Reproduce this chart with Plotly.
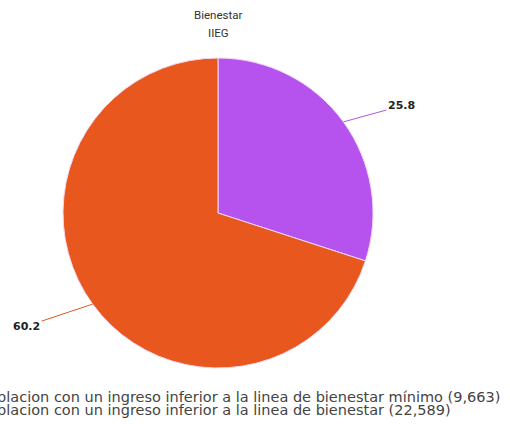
import math
import plotly.graph_objects as go

# Pie data (percent of population)
labels = [
    'Poblacion con un ingreso inferior a la linea de bienestar mínimo (9,663)',
    'Poblacion con un ingreso inferior a la linea de bienestar (22,589)',
]
values = [25.8, 60.2]
colors = ['#B653EE', '#E8571E']

W, H = 510, 424
# pie placement in pixels (from top-left)
cx, cy, r = 218, 213, 155

fig = go.Figure()

fig.add_trace(go.Pie(
    labels=labels,
    values=values,
    sort=False,
    direction='clockwise',
    rotation=0,
    marker=dict(colors=colors, line=dict(color='#f4d6f0', width=1)),
    textinfo='none',
    showlegend=False,
    domain=dict(x=[(cx - r) / W, (cx + r) / W], y=[1 - (cy + r) / H, 1 - (cy - r) / H]),
))

# value labels outside the pie, linked to the middle of each slice
label_offsets = [(58, -16), (-66, 22)]
total = sum(values)
start = 0
for v, col, (ax, ay) in zip(values, colors, label_offsets):
    mid = (start + v / 2) / total * 2 * math.pi
    start += v
    px_ = cx + r * math.sin(mid)
    py_ = cy - r * math.cos(mid)
    fig.add_annotation(
        x=px_ / W, y=1 - py_ / H, xref='paper', yref='paper',
        text='<b>%s</b>' % v, showarrow=True, arrowhead=0, arrowwidth=1,
        arrowcolor=col, ax=ax, ay=ay, standoff=0,
        font=dict(family='DejaVu Sans', size=11, color='#222222'),
    )

# title + subtitle
fig.add_annotation(
    text='Bienestar', x=cx / W, y=1 - 15 / H, xref='paper', yref='paper',
    yanchor='middle', showarrow=False,
    font=dict(family='Roboto', size=11.5, color='#333333'),
)
fig.add_annotation(
    text='IIEG', x=cx / W, y=1 - 33 / H, xref='paper', yref='paper',
    yanchor='middle', showarrow=False,
    font=dict(family='Roboto', size=11.5, color='#333333'),
)

# legend text (cut off at the left edge like the original)
for i, lab in enumerate(labels):
    fig.add_annotation(
        text=lab, x=-21 / W, y=1 - (397 + 13 * i) / H,
        xref='paper', yref='paper', xanchor='left', yanchor='middle',
        showarrow=False, borderpad=0,
        font=dict(family='DejaVu Sans', size=14.5, color='#444444'),
    )

fig.update_layout(
    width=W,
    height=H,
    margin=dict(l=0, r=0, t=0, b=0),
    paper_bgcolor='white',
    plot_bgcolor='white',
)

fig.write_html("out.html", config={'displayModeBar': False},
               post_script="document.body.style.margin='0';")
